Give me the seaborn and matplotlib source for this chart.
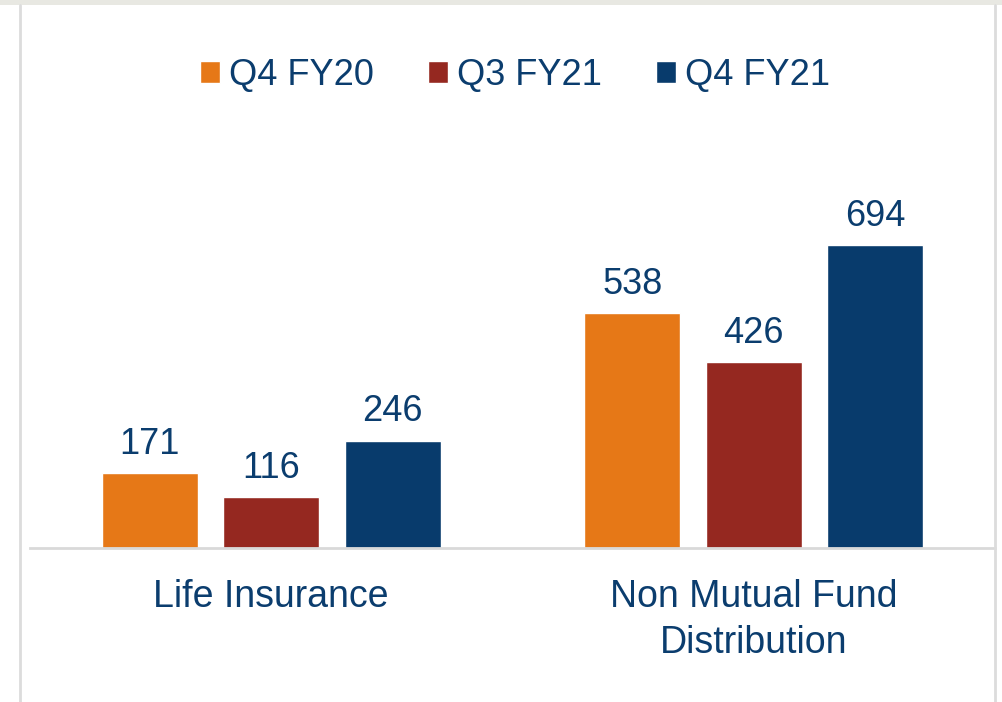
import matplotlib
matplotlib.use("Agg")
import matplotlib.pyplot as plt
import seaborn as sns
import pandas as pd
from matplotlib.patches import Rectangle
from matplotlib.lines import Line2D

categories = ["Life Insurance", "Non Mutual Fund\nDistribution"]
series = ["Q4 FY20", "Q3 FY21", "Q4 FY21"]
q4_fy20 = [171, 538]
q3_fy21 = [116, 426]
q4_fy21 = [246, 694]
colors = ["#E67817", "#952820", "#083B6C"]
text_color = "#0B3D6E"

rows = []
for s, vals in zip(series, [q4_fy20, q3_fy21, q4_fy21]):
    for c, v in zip(categories, vals):
        rows.append({"category": c, "series": s, "value": v})
df = pd.DataFrame(rows)

sns.set_style("white")
plt.rcParams["font.family"] = ["Liberation Sans", "DejaVu Sans"]

fig = plt.figure(figsize=(10.03, 7.02), dpi=100)
ax = fig.add_axes([30 / 1003, (702 - 548) / 702, 965 / 1003, (548 - 10) / 702])

sns.barplot(data=df, x="category", y="value", hue="series", order=categories,
            hue_order=series, palette=colors, width=0.755, gap=0.21,
            saturation=1, ax=ax, errorbar=None)

ax.set_xlim(-0.5, 1.5)
ax.set_ylim(0, (548 - 10) / (303 / 694))
for cont in ax.containers:
    ax.bar_label(cont, padding=8, fontsize=26, color=text_color)

ax.set_xlabel("")
ax.set_ylabel("")
ax.set_yticks([])
ax.tick_params(axis="x", length=0, pad=22, labelsize=27, labelcolor=text_color)
for lbl in ax.get_xticklabels():
    lbl.set_linespacing(1.36)
for sp in ["top", "left", "right"]:
    ax.spines[sp].set_visible(False)
ax.spines["bottom"].set_color("#d9d9d9")
ax.spines["bottom"].set_linewidth(2)

handles, labels = ax.get_legend_handles_labels()
if ax.get_legend() is not None:
    ax.get_legend().remove()
fig.legend(handles, labels, loc="center", bbox_to_anchor=(515 / 1003, 1 - 75 / 702),
           ncol=3, frameon=False, fontsize=26, labelcolor=text_color,
           handlelength=0.55, handleheight=0.55, handletextpad=0.25,
           columnspacing=1.5, borderpad=0)

# frame decorations
fig.add_artist(Rectangle((0, 1 - 5 / 702), 1, 5 / 702, transform=fig.transFigure,
                         facecolor="#e8e8e2", edgecolor="none"))
fig.add_artist(Line2D([20 / 1003, 20 / 1003], [0, 1 - 5 / 702], transform=fig.transFigure,
                      color="#dcdcdc", linewidth=2))
fig.add_artist(Line2D([995.5 / 1003, 995.5 / 1003], [0, 1 - 5 / 702], transform=fig.transFigure,
                      color="#dcdcdc", linewidth=2))

fig.savefig("out.png", dpi=100)
